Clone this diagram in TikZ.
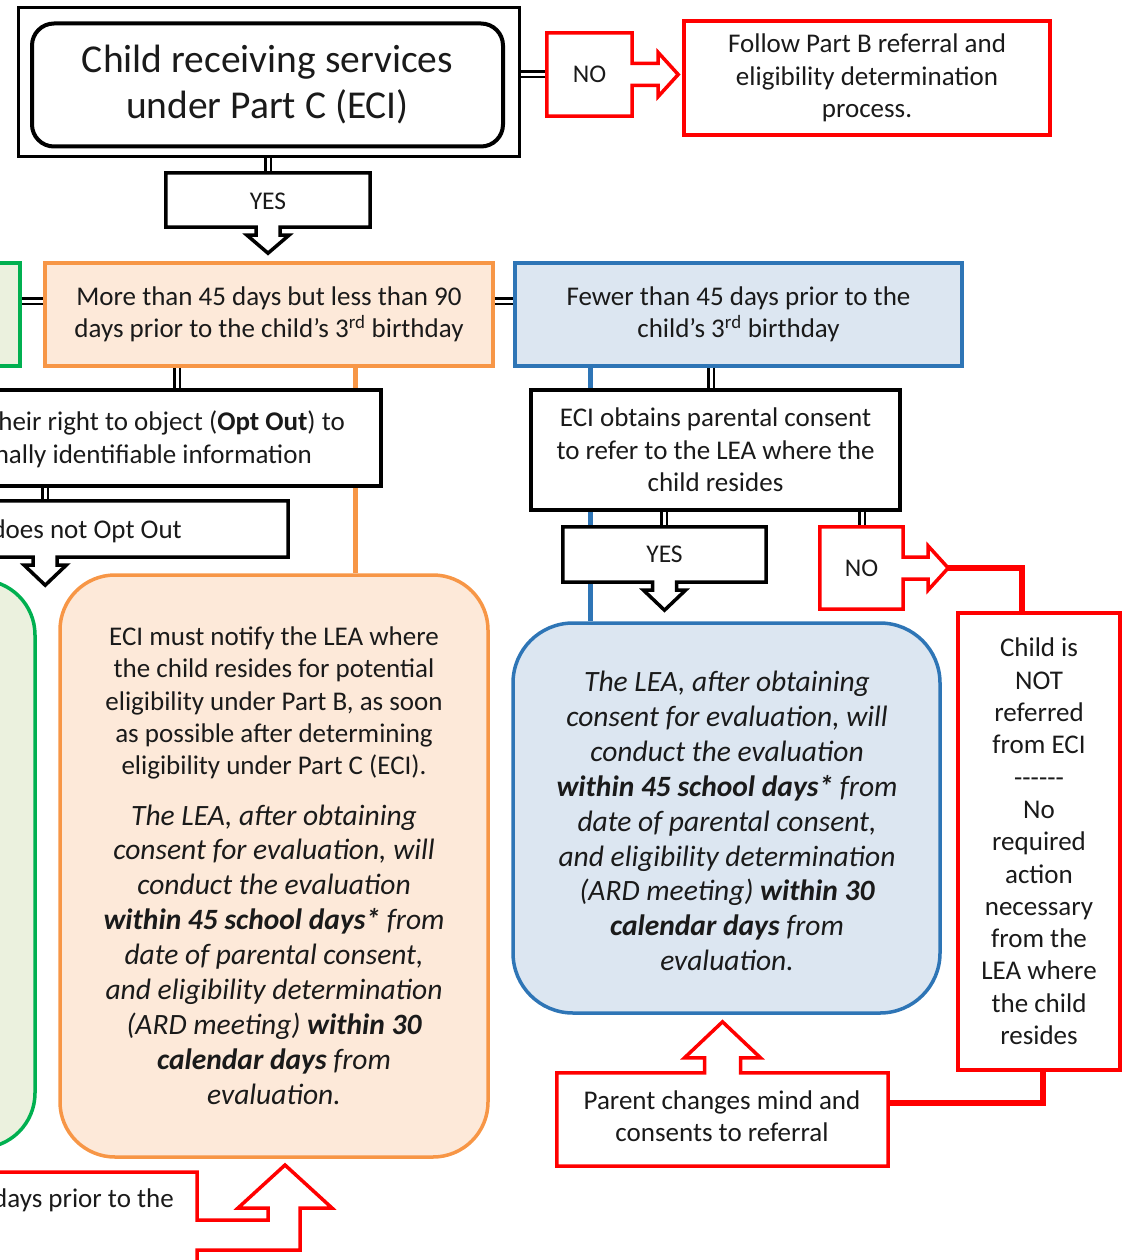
\documentclass[tikz,border=0pt]{standalone}
\usepackage{fontspec}
\setmainfont{Carlito}
\usetikzlibrary{calc}
\definecolor{cred}{HTML}{FF0000}
\definecolor{corange}{HTML}{F79646}
\definecolor{corangefill}{HTML}{FDE9D9}
\definecolor{cblue}{HTML}{2E75B6}
\definecolor{cbluefill}{HTML}{DCE6F1}
\definecolor{cgreen}{HTML}{00B050}
\definecolor{cgreenfill}{HTML}{EBF1DE}
\definecolor{ctext}{HTML}{1A1A1A}
\newcommand\myfN{\fontsize{27}{32.3}\selectfont}
\newcommand\myfI{\fontsize{29.5}{34.9}\selectfont\itshape}
\newcommand\myfT{\fontsize{39.5}{46}\selectfont}
\newcommand\myfS{\fontsize{25.5}{30}\selectfont}
\newcommand\hy{-\kern0pt}
\begin{document}
\begin{tikzpicture}[x=1pt,y=-1pt,
  txt/.style={font=\myfN, align=center, text=ctext, inner sep=0pt},
  itxt/.style={font=\myfI, align=center, text=ctext, inner sep=0pt},
  frame/.style={rectangle, inner sep=0pt},
  bbox/.style={frame, draw=black, fill=white, line width=3.5pt},
  rbox/.style={frame, draw=cred, fill=white, line width=3.5pt},
  callblack/.style={draw=black, fill=white, line width=3.5pt},
  callred/.style={draw=cred, fill=white, line width=3.5pt},
  dbl/.style={draw=black, double=white, double distance=3pt, line width=2.5pt},
  redthick/.style={draw=cred, line width=6pt},
  oline/.style={draw=corange, line width=5pt},
  bline/.style={draw=cblue, line width=5pt},
]
\useasboundingbox (0,0) rectangle (1122,1260);
\clip (0,0) rectangle (1122,1260);

% ---------- title ----------
\node[bbox, line width=3pt, minimum width=501pt, minimum height=149pt] (title) at (268.5,82.5) {};
\node[frame, draw=black, line width=4pt, rounded corners=22pt, minimum width=471pt, minimum height=123pt, font=\myfT, align=center, text=ctext] (titlein) at (267.5,85) {Child receiving services\\under Part C (ECI)};

% NO (top) callout
\node[frame, minimum width=85pt, minimum height=83pt, font=\myfS, text=ctext] (no1) at (589.5,74.5) {};
\draw[dbl] (title.east |- no1.west) -- (no1.west);
\draw[callred] (no1.north west) -- (no1.north east) -- ($(no1.east)+(0,-11)$) -- ++(26,0) -- ++(0,-11)
  -- ($(no1.east)+(46,0)$) -- ($(no1.east)+(26,22)$) -- ++(0,-11) -- ($(no1.east)+(0,11)$)
  -- (no1.south east) -- (no1.south west) -- cycle;
\node[font=\myfS, text=ctext] (no1t) at (no1) {NO};

\node[rbox, minimum width=366pt, minimum height=114pt, txt] (follow) at (867,78) {Follow Part B referral and\\eligibility determination\\process.};

% YES (top) callout
\node[frame, minimum width=204pt, minimum height=54pt] (yes1) at (268,200) {};
\draw[dbl] (title.south -| yes1.north) -- (yes1.north);
\draw[callblack] (yes1.south west) -- (yes1.north west) -- (yes1.north east) -- (yes1.south east)
  -- ($(yes1.south)+(12,0)$) -- ++(0,8) -- ++(9,0) -- ($(yes1.south)+(0,26)$)
  -- ($(yes1.south)+(-21,8)$) -- ++(9,0) -- ($(yes1.south)+(-12,0)$) -- cycle;
\node[font=\myfS, text=ctext] (yes1t) at ([yshift=-1pt]yes1.center) {YES};

% ---------- second row ----------
\node[frame, draw=cgreen, fill=cgreenfill, line width=3.5pt, minimum width=200pt, minimum height=103pt] (gtop) at (-80,314.5) {};
\node[frame, draw=corange, fill=corangefill, line width=3.5pt, minimum width=448pt, minimum height=103pt, txt] (orange) at (269,314.5) {More than 45 days but less than 90\\days prior to the child’s 3\textsuperscript{rd} birthday};
\node[frame, draw=cblue, fill=cbluefill, line width=3.5pt, minimum width=447pt, minimum height=103pt, txt] (blue) at (738.5,314.5) {Fewer than 45 days prior to the\\child’s 3\textsuperscript{rd} birthday};
\draw[dbl] ([yshift=13.5pt]gtop.east) -- ([yshift=13.5pt]orange.west);
\draw[dbl] ([yshift=13.5pt]orange.east) -- ([yshift=13.5pt]blue.west);

% big rounded boxes
\node[frame, draw=cgreen, fill=cgreenfill, line width=3.5pt, rounded corners=55pt, minimum width=300pt, minimum height=568pt] (gbig) at (-115,864) {};
\node[frame, draw=corange, fill=corangefill, line width=3.5pt, rounded corners=55pt, minimum width=428pt, minimum height=582pt] (obig) at (274,866) {};
\node[frame, draw=cblue, fill=cbluefill, line width=3.5pt, rounded corners=60pt, minimum width=427pt, minimum height=390pt] (bbig) at (726.5,818) {};

% coloured vertical lines (behind boxes)
\draw[oline] ([xshift=86pt]orange.south) -- ([xshift=86pt]orange.south |- obig.north);
\draw[bline] ([xshift=-148.5pt]blue.south) -- ([xshift=-148.5pt]blue.south |- bbig.north);

% ---------- left column ----------
\node[bbox, minimum width=531pt, minimum height=96pt] (optb) at (115.5,438) {};
\draw[dbl] ([xshift=-92pt]orange.south) -- ([xshift=-92pt]orange.south |- optb.north);
\node[txt, anchor=east] (optl1) at (345,423) {heir right to object (\textbf{Opt Out}) to};
\node[txt, anchor=east] (optl2) at (312,456) {nally identifiable information};

\node[frame, minimum width=438pt, minimum height=56pt] (dnb) at (69,529) {};
\draw[dbl] ([xshift=-70.5pt]optb.south) -- ([xshift=-70.5pt]optb.south |- dnb.north);
\draw[callblack] (dnb.north west) -- (dnb.north east) -- (dnb.south east)
  -- ($(dnb.south east)+(-231,0)$) -- ++(0,8) -- ++(9,0) -- ($(dnb.south east)+(-243,28)$)
  -- ++(-21,-20) -- ++(9,0) -- ($(dnb.south east)+(-255,0)$) -- (dnb.south west) -- cycle;
\node[txt, anchor=east] (dnbt) at (182,531) {does not Opt Out};

\node[txt] (ot1) at (274,703) {ECI must notify the LEA where\\the child resides for potential\\eligibility under Part B, as soon\\as possible after determining\\eligibility under Part C (ECI).};
\node[itxt] (ot2) at (274,954.5) {The LEA, after obtaining\\consent for evaluation, will\\conduct the evaluation\\\textbf{within 45 school days*} from\\date of parental consent,\\and eligibility determination\\(ARD meeting) \textbf{within 30}\\\textbf{calendar days} from\\evaluation.};

% ---------- right column ----------
\node[bbox, minimum width=369pt, minimum height=120pt, txt] (ecib) at (715.5,450) {ECI obtains parental consent\\to refer to the LEA where the\\child resides};
\draw[dbl] ([xshift=-27.5pt]blue.south) -- ([xshift=-27.5pt]blue.south |- ecib.north);

\node[frame, minimum width=203pt, minimum height=55pt] (yes2) at (664.5,554.5) {};
\draw[dbl] ([xshift=-51.5pt]ecib.south) -- ([xshift=-51.5pt]ecib.south |- yes2.north);
\draw[callblack] (yes2.south west) -- (yes2.north west) -- (yes2.north east) -- (yes2.south east)
  -- ($(yes2.south)+(12,0)$) -- ++(0,8) -- ++(9,0) -- ($(yes2.south)+(0,28)$)
  -- ($(yes2.south)+(-21,8)$) -- ++(9,0) -- ($(yes2.south)+(-12,0)$) -- cycle;
\node[font=\myfS, text=ctext] (yes2t) at (yes2) {YES};

\node[frame, minimum width=83pt, minimum height=82pt] (no2) at (861.5,568) {};
\draw[dbl] ([xshift=146.5pt]ecib.south) -- ([xshift=146.5pt]ecib.south |- no2.north);
\draw[callred] (no2.north west) -- (no2.north east) -- ($(no2.east)+(0,-11)$) -- ++(25,0) -- ++(0,-11)
  -- ($(no2.east)+(45,0)$) -- ($(no2.east)+(25,22)$) -- ++(0,-11) -- ($(no2.east)+(0,11)$)
  -- (no2.south east) -- (no2.south west) -- cycle;
\node[font=\myfS, text=ctext] (no2t) at (no2) {NO};

\node[rbox, minimum width=162pt, minimum height=457pt, txt] (childb) at (1039,841.5) {Child is\\NOT\\referred\\from ECI\\\hy\hy\hy\hy\hy\hy\\No\\required\\action\\necessary\\from the\\LEA where\\the child\\resides};
\draw[redthick] ($(no2.east)+(45,0)$) -| ([xshift=-17pt]childb.north);

\node[itxt] (bt) at (727,821) {The LEA, after obtaining\\consent for evaluation, will\\conduct the evaluation\\\textbf{within 45 school days*} from\\date of parental consent,\\and eligibility determination\\(ARD meeting) \textbf{within 30}\\\textbf{calendar days} from\\evaluation.};

% Parent changes mind callout (up arrow)
\node[frame, minimum width=331pt, minimum height=93pt] (parb) at (722.5,1119.5) {};
\draw[callred] (parb.north west) -- ($(parb.north)+(-18,0)$) -- ++(0,-15) -- ++(-20,0)
  -- ($(parb.north)+(0,-51)$) -- ($(parb.north)+(38,-15)$) -- ++(-20,0) -- ($(parb.north)+(18,0)$)
  -- (parb.north east) -- (parb.south east) -- (parb.south west) -- cycle;
\node[txt] (parbt) at (722,1116) {Parent changes mind and\\consents to referral};
\draw[redthick] ([xshift=4pt]childb.south) |- ([yshift=16.5pt]parb.east);

% bottom-left red callout (cut off)
\draw[callred] (-20,1172) -- (197,1172) -- (197,1220) -- (268,1220) -- (268,1208) -- (238,1208)
  -- (285,1165) -- (332,1208) -- (300,1208) -- (300,1250) -- (197,1250) -- (197,1280) -- (-20,1280) -- cycle;
\node[txt, anchor=east] (blt) at (174,1200) {days prior to the};
\end{tikzpicture}
\end{document}
